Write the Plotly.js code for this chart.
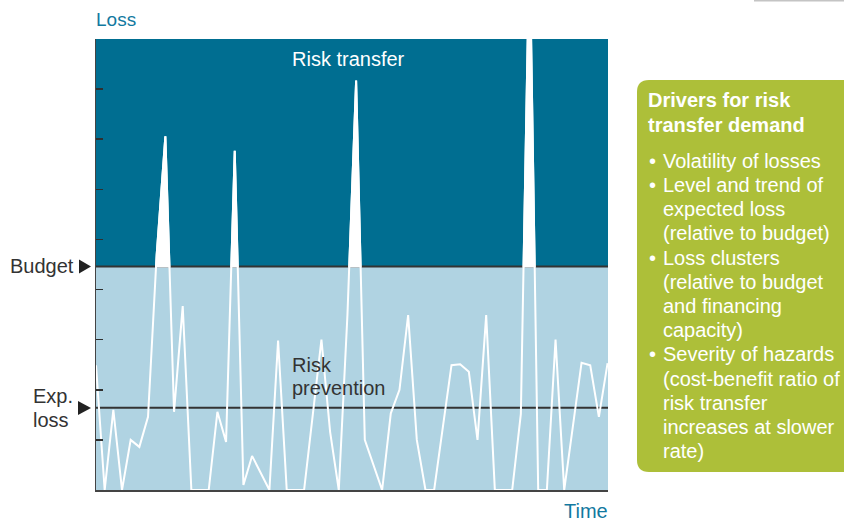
<!DOCTYPE html>
<html><head><meta charset="utf-8">
<script src="https://cdn.plot.ly/plotly-3.0.1.min.js"></script>
<style>html,body{margin:0;padding:0;background:#fff}</style>
</head><body><div id="chart" style="width:844px;height:522px"></div>
<script>
// ---- data ----
const timeSteps = [0,1,2,3,4,5,6,7,8,9,10,11,12,13,14,15,16,17,18,19,20,21,22,23,24,25,26,27,28,29,30,31,32,33,34,35,36,37,38,39,40,41,42,43,44,45,46,47,48,49,50,51,52,53,54,55,56,57,58,59];
const lossValues = [2.49,0,1.60,0,1.0,0.86,1.46,4.7,7.06,1.56,3.67,0,0,0,1.56,0.96,6.77,0.1,0.68,0.35,0,2.98,0,0,0,1.5,3.0,1.16,0,3.5,8.17,1.0,0.5,0,1.53,2.0,3.49,1.0,0,0,1.25,2.49,2.51,2.36,1.0,3.49,0,0,0,1.52,11.0,0,0,3.0,0,1.27,2.54,2.49,1.46,2.53];
const budgetLevel = 4.46;
const expLossLevel = 1.64;
const yMax = 9;
const axisLabels = {y: "Loss", x: "Time"};
const regionLabels = {transfer: "Risk transfer", prevention: ["Risk", "prevention"]};
const levelLabels = {budget: "Budget", expLoss: ["Exp.", "loss"]};
const driverTitle = ["Drivers for risk", "transfer demand"];
const driverBullets = [
  ["Volatility of losses"],
  ["Level and trend of", "expected loss", "(relative to budget)"],
  ["Loss clusters", "(relative to budget", "and financing", "capacity)"],
  ["Severity of hazards", "(cost-benefit ratio of", "risk transfer", "increases at slower", "rate)"]
];

// ---- layout helpers ----
const L = 96, R = 608, T = 39, B = 490;
const px = x => (x - L) / (R - L);
const py = y => (B - y) / (B - T);
const FONT = 'Liberation Sans, Arial, Helvetica, sans-serif';
const DARK = '#006e91', LIGHT = '#b0d3e2', GREEN = '#adbf39', TEAL = '#1279a0', INK = '#333333';
const xMax = 59.05;

const ann = [];
function label(text, x, baseline, size, color, anchor, bold) {
  ann.push({
    text: bold ? '<b>' + text + '</b>' : text,
    xref: 'paper', yref: 'paper', x: px(x), y: py(baseline - 0.3465 * size),
    xanchor: anchor || 'left', yanchor: 'middle', showarrow: false,
    borderpad: 0, borderwidth: 0,
    font: {family: FONT, size: size, color: color}
  });
}
label(axisLabels.y, 96, 25.7, 19, TEAL);
label(axisLabels.x, 608, 517.8, 20, TEAL, 'right');
label(regionLabels.transfer, 292, 65.7, 20, '#ffffff');
label(regionLabels.prevention[0], 292, 371.7, 20, INK);
label(regionLabels.prevention[1], 292, 395, 20, INK);
label(levelLabels.budget, 10, 273, 20, INK);
label(levelLabels.expLoss[0], 33, 403.3, 20, INK);
label(levelLabels.expLoss[1], 33, 426.7, 20, INK);

const lh = 24.2;
let base = 107.3;
driverTitle.forEach(t => { label(t, 648, base, 20, '#ffffff', 'left', true); base += lh; });
base += lh * 0.5;
driverBullets.forEach(lines => {
  label('•', 652, base, 20, '#ffffff', 'center');
  lines.forEach(t => { label(t, 663, base, 20, '#ffffff'); base += lh; });
});

// rounded box
function roundedBox(x0, y0, x1, y1, r) {
  const P = (x, y) => px(x) + ',' + py(y);
  return 'M' + P(x0 + r, y0) + ' L' + P(x1, y0) + ' L' + P(x1, y1) + ' L' + P(x0 + r, y1) +
    ' Q' + P(x0, y1) + ' ' + P(x0, y1 - r) + ' L' + P(x0, y0 + r) + ' Q' + P(x0, y0) + ' ' + P(x0 + r, y0) + ' Z';
}
function tri(x0, yc, x1, h) {
  return 'M' + px(x0) + ',' + py(yc - h) + ' L' + px(x1) + ',' + py(yc) + ' L' + px(x0) + ',' + py(yc + h) + ' Z';
}

const shapes = [
  {type: 'rect', xref: 'paper', yref: 'y', x0: 0, x1: 1, y0: budgetLevel, y1: yMax, fillcolor: DARK, line: {width: 0}, layer: 'below'},
  {type: 'rect', xref: 'paper', yref: 'y', x0: 0, x1: 1, y0: 0, y1: budgetLevel, fillcolor: LIGHT, line: {width: 0}, layer: 'below'},
  {type: 'line', xref: 'paper', yref: 'y', x0: 0, x1: 1, y0: budgetLevel, y1: budgetLevel, line: {color: INK, width: 2}, layer: 'below'},
  {type: 'line', xref: 'paper', yref: 'y', x0: 0, x1: 1, y0: expLossLevel, y1: expLossLevel, line: {color: INK, width: 2}, layer: 'below'},
  {type: 'path', xref: 'paper', yref: 'paper', path: tri(79, 266.5, 91, 7), fillcolor: '#222', line: {width: 0}},
  {type: 'path', xref: 'paper', yref: 'paper', path: tri(78, 408, 91, 7), fillcolor: '#222', line: {width: 0}},
  {type: 'path', xref: 'paper', yref: 'paper', path: roundedBox(637, 80, 852, 472, 12), fillcolor: GREEN, line: {width: 0}, layer: 'below'},
  {type: 'line', xref: 'paper', yref: 'paper', x0: px(754), x1: px(846), y0: py(0.8), y1: py(0.8), line: {color: '#c4c4c4', width: 1.5}}
];

const low2 = budgetLevel - 0.02;
const traces = [
  {x: timeSteps, y: lossValues, type: 'scatter', mode: 'lines', xaxis: 'x', yaxis: 'y',
   line: {color: '#ffffff', width: 2}, hoverinfo: 'skip'},
  {x: timeSteps, y: lossValues, type: 'scatter', mode: 'lines', xaxis: 'x', yaxis: 'y2',
   fill: 'tozeroy', fillcolor: '#ffffff', line: {color: '#ffffff', width: 2}, hoverinfo: 'skip'}
];

const layout = {
  width: 844, height: 522,
  margin: {l: L, r: 844 - R, t: T, b: 522 - B, pad: 0},
  paper_bgcolor: '#ffffff', plot_bgcolor: 'rgba(0,0,0,0)',
  showlegend: false,
  xaxis: {range: [0, xMax], showgrid: false, zeroline: false, showline: true, linecolor: '#444', linewidth: 1.5,
          ticks: '', showticklabels: false, fixedrange: true},
  yaxis: {range: [0, yMax], domain: [0, 1], tick0: 0, dtick: 1, ticks: 'inside', ticklen: 7, tickwidth: 1.5, tickcolor: '#2f2f2f',
          showgrid: false, zeroline: false, showline: true, linecolor: '#444', linewidth: 1.5, showticklabels: false, fixedrange: true},
  yaxis2: {range: [low2, yMax], domain: [low2 / yMax, 1], anchor: 'x', visible: false, fixedrange: true},
  shapes: shapes,
  annotations: ann
};

Plotly.newPlot('chart', traces, layout, {displayModeBar: false, staticPlot: true});
</script>
</body></html>
